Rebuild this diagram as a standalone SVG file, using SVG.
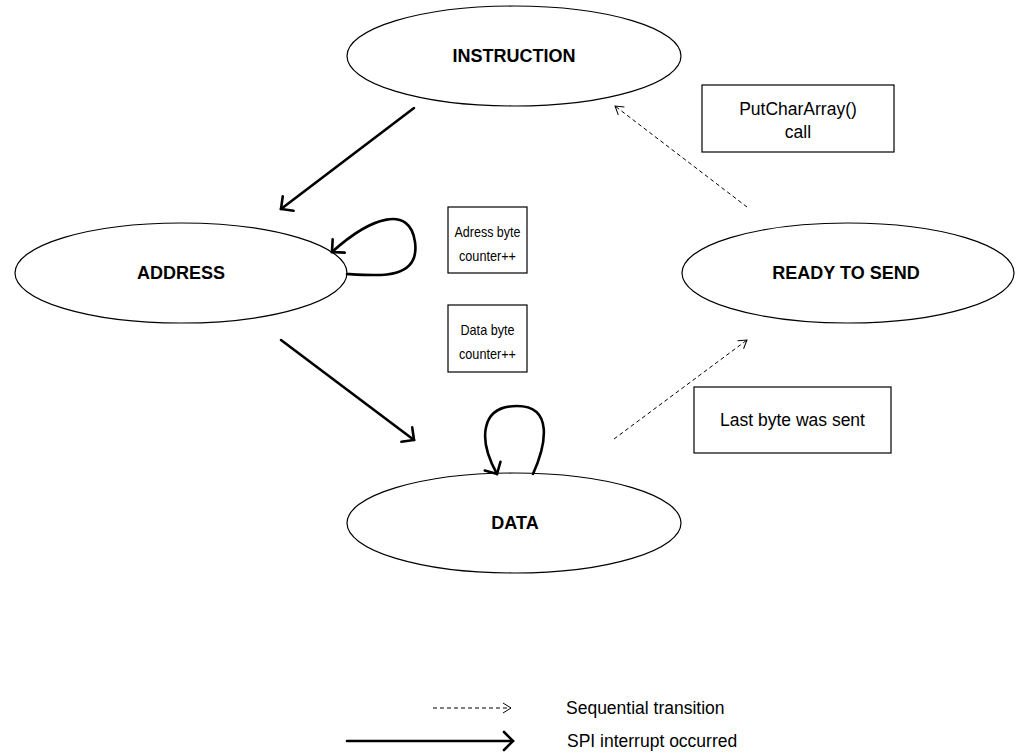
<svg xmlns="http://www.w3.org/2000/svg" width="1020" height="754" viewBox="0 0 1020 754">
  <style>
    .state { fill: #ffffff; stroke: #000000; stroke-width: 1.2; }
    .state-label { font-family: "Liberation Sans", Arial, sans-serif; font-size: 18px; font-weight: bold; text-anchor: middle; fill: #000000; }
    .note { fill: #ffffff; stroke: #000000; stroke-width: 1.2; }
    .note-label { font-family: "Liberation Sans", Arial, sans-serif; font-size: 17.5px; text-anchor: middle; fill: #000000; }
    .note-label.narrow { font-size: 14.5px; }
    .legend-label { font-family: "Liberation Sans", Arial, sans-serif; font-size: 17.5px; fill: #000000; }
    .spi { fill: none; stroke: #000000; stroke-width: 2.6; stroke-linecap: round; marker-end: url(#head-solid); }
    .seq { fill: none; stroke: #000000; stroke-width: 1; stroke-dasharray: 4 3; marker-end: url(#head-dashed); }
  </style>
  <defs>
    <marker id="head-solid" markerUnits="userSpaceOnUse" orient="auto" overflow="visible" markerWidth="20" markerHeight="20" refX="0" refY="0">
      <path d="M-9,-9 L0,0 L-9,9" fill="none" stroke="#000000" stroke-width="2.6" stroke-linecap="round" stroke-linejoin="miter"/>
    </marker>
    <marker id="head-dashed" markerUnits="userSpaceOnUse" orient="auto" overflow="visible" markerWidth="14" markerHeight="14" refX="0" refY="0">
      <path d="M-8,-5 L0,0 L-8,5" fill="none" stroke="#000000" stroke-width="1"/>
    </marker>
  </defs>

  <rect width="1020" height="754" fill="#ffffff"/>

  <!-- state nodes -->
  <g id="instruction">
    <ellipse class="state" cx="514" cy="56" rx="167" ry="50"/>
    <text class="state-label" x="514" y="62">INSTRUCTION</text>
  </g>
  <g id="address">
    <ellipse class="state" cx="181" cy="273" rx="166" ry="50"/>
    <text class="state-label" x="181" y="279">ADDRESS</text>
  </g>
  <g id="ready-to-send">
    <ellipse class="state" cx="848" cy="273" rx="166" ry="50"/>
    <text class="state-label" x="846" y="279">READY TO SEND</text>
  </g>
  <g id="data">
    <ellipse class="state" cx="514" cy="523" rx="167" ry="50"/>
    <text class="state-label" x="515" y="529">DATA</text>
  </g>

  <!-- transition notes (narrow boxes use slightly condensed text) -->
  <g id="note-putchararray">
    <rect class="note" x="702" y="85" width="192" height="67"/>
    <text class="note-label" x="798" y="115">PutCharArray()</text>
    <text class="note-label" x="798" y="138">call</text>
  </g>
  <g id="note-address-counter">
    <rect class="note" x="448" y="207" width="79" height="66"/>
    <text class="note-label narrow" x="487.5" y="237" textLength="66" lengthAdjust="spacingAndGlyphs">Adress byte</text>
    <text class="note-label narrow" x="487.5" y="261" textLength="57" lengthAdjust="spacingAndGlyphs">counter++</text>
  </g>
  <g id="note-data-counter">
    <rect class="note" x="448" y="305" width="79" height="67"/>
    <text class="note-label narrow" x="487.5" y="335" textLength="54" lengthAdjust="spacingAndGlyphs">Data byte</text>
    <text class="note-label narrow" x="487.5" y="359" textLength="57" lengthAdjust="spacingAndGlyphs">counter++</text>
  </g>
  <g id="note-last-byte">
    <rect class="note" x="694" y="387" width="197" height="66"/>
    <text class="note-label" x="792.5" y="426">Last byte was sent</text>
  </g>

  <!-- transitions -->
  <g id="connectors">
    <path class="spi" d="M414,108 L281,209"/>
    <path class="spi" d="M347,274 C382,276 420,279 415,242 C410,205 372,216 332,252"/>
    <path class="spi" d="M281,340 L414,440"/>
    <path class="spi" d="M533,474 C546,445 554,406 517,406 C480,406 478,440 497,474"/>
    <path class="seq" d="M614,439 L747,340"/>
    <path class="seq" d="M747,207 L615,106"/>
  </g>

  <!-- legend -->
  <g id="legend">
    <path class="seq" d="M433,708 L511,708"/>
    <text class="legend-label" x="566" y="714">Sequential transition</text>
    <path class="spi" d="M347,741 L513,741"/>
    <text class="legend-label" x="567" y="747">SPI interrupt occurred</text>
  </g>
</svg>
